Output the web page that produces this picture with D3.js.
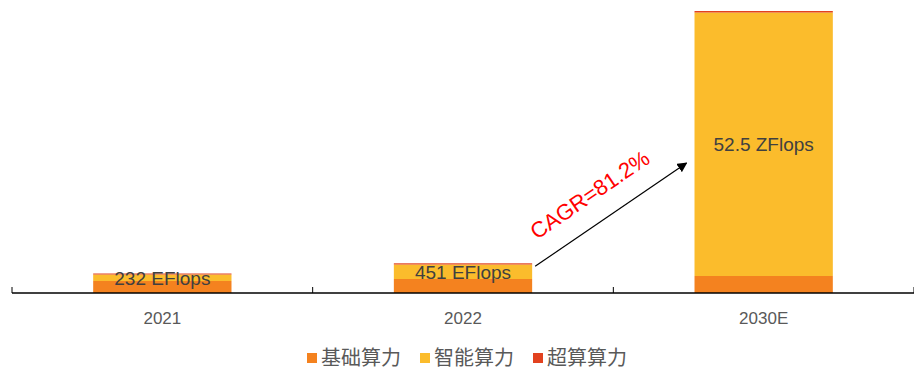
<!DOCTYPE html>
<html>
<head>
<meta charset="utf-8">
<script src="https://cdn.jsdelivr.net/npm/d3@7"></script>
<style>
  body { margin: 0; background: #fff; }
  svg text { font-family: "Liberation Sans", Arial, "Noto Sans CJK SC", sans-serif; }
</style>
</head>
<body>
<svg id="chart" width="914" height="370"></svg>
<script>
// categories and stacked series (drawn heights)
var years = ["2021", "2022", "2030E"];
var basic = [12, 14, 17];
var intel = [6.5, 14.5, 263.5];
var superc = [1, 1.2, 1.5];
var totals = ["232 EFlops", "451 EFlops", "52.5 ZFlops"];
var seriesNames = ["基础算力", "智能算力", "超算算力"];
var colors = ["#F4821F", "#FBBC2C", "#E2421F"];
var cagr = "CAGR=81.2%";

var svg = d3.select("#chart");
var baseY = 293;

var x = d3.scaleBand().domain(years).range([12, 914]).paddingInner(0.54).paddingOuter(0.27);
var y = d3.scaleLinear().domain([0, 283]).range([baseY, 10]);

var table = years.map(function(d, i) {
  return { year: d, "基础算力": basic[i], "智能算力": intel[i], "超算算力": superc[i] };
});
var stacked = d3.stack().keys(seriesNames)(table);

svg.selectAll("g.layer")
  .data(stacked)
  .enter().append("g")
  .attr("class", "layer")
  .attr("fill", function(d, i) { return colors[i]; })
  .selectAll("rect")
  .data(function(d) { return d; })
  .enter().append("rect")
  .attr("x", function(d) { return x(d.data.year); })
  .attr("width", x.bandwidth())
  .attr("y", function(d) { return y(d[1]); })
  .attr("height", function(d) { return y(d[0]) - y(d[1]); });

// axis
var step = x.step();
var axis = d3.axisBottom(x).tickSize(0).tickPadding(19);
var gx = svg.append("g").attr("transform", "translate(0," + baseY + ")").call(axis);
gx.select(".domain").remove();
gx.append("line").attr("x1", 12).attr("x2", 914).attr("stroke", "#000").attr("stroke-width", 1.3);
var boundaries = [12].concat(years.map(function(d) { return x(d) - x.paddingInner() * step / 2 + step; }));
gx.selectAll("line.sep").data(boundaries).enter().append("line")
  .attr("class", "sep")
  .attr("x1", function(d) { return d; }).attr("x2", function(d) { return d; })
  .attr("y1", -6).attr("y2", 0)
  .attr("stroke", "#000").attr("stroke-width", 1);
gx.selectAll(".tick text").attr("fill", "#595959").style("font-size", "17px");

// total labels
var labelY = [y(basic[0] + intel[0] / 2) + 0.5, y(basic[1] + intel[1] / 2) + 1, y(basic[2] + intel[2] / 2)];
svg.selectAll("text.total").data(totals).enter().append("text")
  .attr("class", "total")
  .attr("x", function(d, i) { return x(years[i]) + x.bandwidth() / 2; })
  .attr("y", function(d, i) { return labelY[i]; })
  .attr("dy", "0.35em")
  .attr("text-anchor", "middle")
  .attr("fill", "#404040")
  .style("font-size", "19px")
  .text(function(d) { return d; });

// arrow
svg.append("defs").append("marker")
  .attr("id", "head").attr("viewBox", "0 0 10 10")
  .attr("refX", 9).attr("refY", 5)
  .attr("markerWidth", 10).attr("markerHeight", 10)
  .attr("markerUnits", "userSpaceOnUse")
  .attr("orient", "auto")
  .append("path").attr("d", "M0,0L10,5L0,10z").attr("fill", "#000");
var x0 = x("2022") + x.bandwidth() + 3, y0 = y(basic[1] + intel[1] + superc[1]) + 3;
var x1 = x("2030E") - 8, y1 = 163;
svg.append("line")
  .attr("x1", x0).attr("y1", y0).attr("x2", x1).attr("y2", y1)
  .attr("stroke", "#000").attr("stroke-width", 1.2)
  .attr("marker-end", "url(#head)");

var ang = Math.atan2(y1 - y0, x1 - x0) * 180 / Math.PI;
svg.append("text")
  .attr("transform", "translate(" + 594 + "," + 201 + ") rotate(" + ang + ")")
  .attr("text-anchor", "middle")
  .attr("fill", "#FF0000")
  .style("font-size", "22px")
  .text(cagr);

// legend
var legend = svg.append("g").attr("transform", "translate(307,358)");
var lx = [0, 113, 226];
var items = legend.selectAll("g").data(seriesNames).enter().append("g")
  .attr("transform", function(d, i) { return "translate(" + lx[i] + ",0)"; });
items.append("rect").attr("x", 0).attr("y", -5).attr("width", 10).attr("height", 10)
  .attr("fill", function(d, i) { return colors[i]; });
items.append("text").attr("x", 14).attr("dy", "0.35em")
  .attr("fill", "#595959")
  .style("font-size", "20px")
  .style("font-family", "'Noto Sans CJK SC', sans-serif")
  .text(function(d) { return d; });
</script>
</body>
</html>
